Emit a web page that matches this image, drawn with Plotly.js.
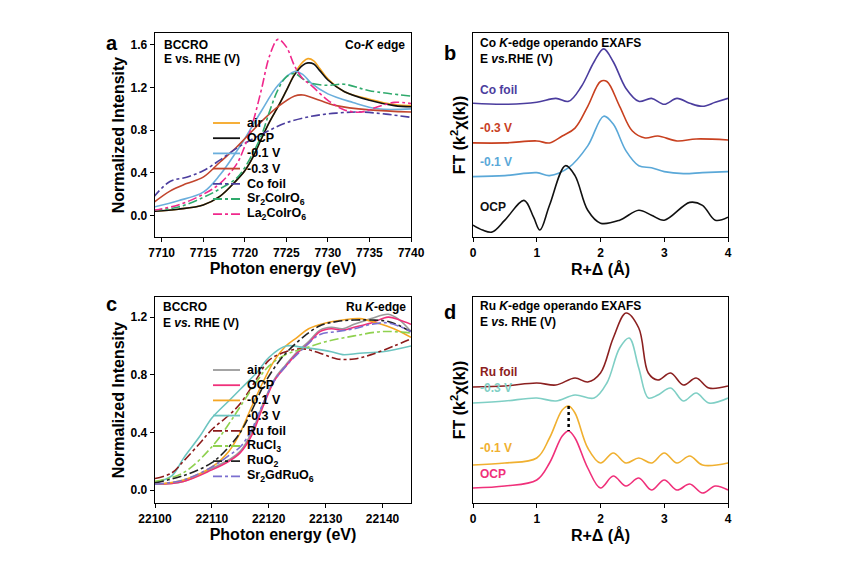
<!DOCTYPE html>
<html><head><meta charset="utf-8">
<script src="https://cdn.plot.ly/plotly-3.0.1.min.js"></script>
<style>body{margin:0}#chart{width:844px;height:574px}</style>
</head><body><div id="chart"></div>
<script>
// panel a: Co K-edge XANES
var aAirX = [7709,7712,7715,7717,7719,7720,7721,7722,7723,7724,7725,7726,7727,7727.6,7728.3,7729,7730,7732,7735,7738,7740]
var aAirY = [0.04,0.06,0.1,0.18,0.33,0.42,0.55,0.72,0.88,1.02,1.17,1.33,1.44,1.47,1.45,1.38,1.28,1.16,1.09,1.04,1.03]
var aOcpY = [0.04,0.06,0.1,0.18,0.33,0.42,0.55,0.72,0.88,1.02,1.17,1.32,1.41,1.43,1.42,1.36,1.27,1.16,1.08,1.03,1.02]
var aM01X = [7709,7712,7715,7717,7719,7720,7722,7724,7726,7727,7728,7730,7733,7736,7740]
var aM01Y = [0.08,0.14,0.22,0.38,0.6,0.72,0.98,1.22,1.35,1.32,1.24,1.14,1.06,1.0,1.0]
var aM03X = [7709,7711,7713,7715,7717,7719,7720,7722,7724,7726,7727,7729,7731,7735,7740]
var aM03Y = [0.12,0.23,0.3,0.36,0.5,0.64,0.72,0.88,1.02,1.12,1.13,1.08,1.03,0.99,0.97]
var aFoilX = [7709,7711,7713,7715,7717,7719,7721,7723,7725,7728,7731,7734,7737,7740]
var aFoilY = [0.17,0.32,0.36,0.42,0.52,0.63,0.72,0.8,0.87,0.93,0.96,0.97,0.95,0.92]
var aSrX = [7709,7712,7715,7717,7719,7720,7722,7723,7724,7725,7726,7727,7728,7730,7732,7735,7740]
var aSrY = [0.05,0.08,0.17,0.25,0.35,0.45,0.75,0.98,1.18,1.3,1.33,1.28,1.24,1.22,1.23,1.17,1.12]
var aLaX = [7709,7712,7715,7717,7719,7720,7721,7722,7723,7724,7725,7726,7727,7728,7730,7732,7734,7736,7738,7740]
var aLaY = [0.05,0.1,0.2,0.3,0.48,0.65,0.88,1.18,1.5,1.65,1.58,1.4,1.28,1.22,1.08,0.99,0.97,1.02,1.06,1.05]

// panel b: Co K-edge EXAFS (offset curves, arbitrary units)
var bFoilX = [0,0.5,1.0,1.3,1.5,1.7,1.9,2.05,2.2,2.4,2.6,2.8,3.0,3.2,3.4,3.6,3.8,4.0]
var bFoilY = [133,132,134,138,135,150,175,188,175,148,135,138,132,138,133,130,134,138]
var bM03X = [0,0.5,1.0,1.2,1.4,1.6,1.8,2.0,2.1,2.3,2.5,2.7,2.9,3.2,3.5,4.0]
var bM03Y = [93,93,95,93,100,108,130,155,155,130,105,98,100,95,97,96]
var bM01X = [0,0.5,1.0,1.2,1.5,1.8,2.05,2.2,2.4,2.6,2.8,3.0,3.3,3.6,4.0]
var bM01Y = [59,60,63,60,68,90,120,112,85,70,68,64,62,63,64]
var bOcpX = [0,0.15,0.3,0.5,0.8,0.95,1.05,1.2,1.45,1.6,1.8,2.0,2.3,2.6,2.8,3.0,3.4,3.6,3.8,4.0]
var bOcpY = [10,5,3,15,35,18,5,30,70,60,25,12,15,25,20,15,33,30,15,18]

// panel c: Ru K-edge XANES
var cOcpX = [22100,22105,22110,22113,22115,22117,22119,22121,22123,22125,22127,22129,22131,22133,22135,22138,22141,22143,22145]
var cOcpY = [0.04,0.06,0.14,0.2,0.26,0.38,0.58,0.76,0.86,0.95,1.02,1.1,1.12,1.11,1.13,1.16,1.2,1.18,1.15]
var cAirY = [0.04,0.06,0.15,0.21,0.27,0.4,0.6,0.77,0.87,0.96,1.03,1.11,1.13,1.12,1.15,1.19,1.22,1.18,1.1]
var cM01X = [22100,22105,22110,22113,22115,22117,22119,22121,22123,22125,22127,22130,22133,22136,22139,22142,22145]
var cM01Y = [0.04,0.07,0.16,0.27,0.4,0.58,0.75,0.9,1.0,1.06,1.12,1.16,1.18,1.19,1.16,1.12,1.06]
var cM03X = [22100,22103,22105,22108,22110,22113,22115,22118,22120,22123,22126,22128,22131,22133,22136,22140,22145]
var cM03Y = [0.05,0.1,0.22,0.38,0.5,0.62,0.7,0.82,0.92,1.0,0.99,0.98,0.96,0.94,0.95,0.96,1.0]
var cFoilX = [22100,22103,22105,22108,22110,22113,22115,22118,22120,22123,22126,22129,22132,22135,22138,22142,22145]
var cFoilY = [0.08,0.12,0.2,0.33,0.42,0.52,0.6,0.78,0.9,0.96,0.98,0.95,0.91,0.91,0.94,1.0,1.05]
var cClX = [22100,22105,22110,22113,22115,22118,22120,22123,22126,22130,22135,22140,22145]
var cClY = [0.06,0.12,0.3,0.46,0.58,0.76,0.86,0.94,0.98,1.03,1.07,1.1,1.09]
var cRuo2X = [22100,22105,22110,22113,22115,22117,22119,22121,22123,22126,22129,22132,22135,22138,22141,22145]
var cRuo2Y = [0.05,0.1,0.19,0.3,0.4,0.55,0.72,0.85,0.95,1.06,1.14,1.17,1.18,1.18,1.17,1.1]
var cGdX = [22100,22105,22110,22113,22115,22117,22119,22121,22123,22126,22129,22132,22135,22138,22141,22145]
var cGdY = [0.04,0.07,0.16,0.24,0.3,0.42,0.6,0.76,0.86,0.98,1.08,1.1,1.12,1.15,1.16,1.1]

// panel d: Ru K-edge EXAFS
var dFoilX = [0,0.5,1.0,1.3,1.6,1.8,2.0,2.2,2.4,2.6,2.75,2.9,3.1,3.3,3.5,3.7,4.0]
var dFoilY = [111,112,115,113,120,116,125,160,185,170,125,118,125,113,120,110,112]
var dM03X = [0,0.5,1.0,1.3,1.6,1.9,2.1,2.3,2.45,2.6,2.75,2.9,3.1,3.3,3.5,3.7,4.0]
var dM03Y = [95,97,100,97,103,100,115,150,160,130,100,103,110,97,105,95,100]
var dM01X = [0,0.5,1.0,1.2,1.4,1.5,1.6,1.8,2.0,2.2,2.4,2.6,2.8,3.0,3.2,3.4,3.6,4.0]
var dM01Y = [33,35,40,60,88,92,85,50,35,45,35,40,35,45,35,42,33,35]
var dOcpX = [0,0.5,1.0,1.2,1.4,1.5,1.6,1.8,2.0,2.2,2.4,2.6,2.8,3.0,3.2,3.4,3.6,3.8,4.0]
var dOcpY = [10,12,18,35,62,67,60,30,10,22,12,20,8,18,8,14,5,12,8]
var dShiftX = [1.5,1.5]
var dShiftY = [92,67]

var aNames = ["air","OCP","-0.1 V","-0.3 V","Co foil","Sr<sub>2</sub>CoIrO<sub>6</sub>","La<sub>2</sub>CoIrO<sub>6</sub>"]
var aColors = ["#f5a623","#111111","#6aaedc","#c2452d","#4b3d9e","#2faa6c","#f0288c"]
var aDash = ["solid","solid","solid","solid","dashdot","dashdot","dashdot"]
var cNames = ["air","OCP","-0.1 V","-0.3 V","Ru foil","RuCl<sub>3</sub>","RuO<sub>2</sub>","Sr<sub>2</sub>GdRuO<sub>6</sub>"]
var cColors = ["#9a9a9a","#f0307a","#f5a623","#6cc4c0","#8b1a1a","#8fd14f","#222222","#7b6fd0"]
var cDash = ["solid","solid","solid","solid","dashdot","dashdot","dashdot","dashdot"]

function tr(x, y, color, name, dash, xa, ya) {
  return {x: x, y: y, name: name, mode: "lines", type: "scatter",
    line: {color: color, width: 1.6, dash: dash || "solid", shape: "spline", smoothing: 1},
    xaxis: xa, yaxis: ya, showlegend: false, hoverinfo: "skip"}
}

var data = [
  tr(aAirX, aAirY, aColors[0], aNames[0], aDash[0], "x", "y"),
  tr(aAirX, aOcpY, aColors[1], aNames[1], aDash[1], "x", "y"),
  tr(aM01X, aM01Y, aColors[2], aNames[2], aDash[2], "x", "y"),
  tr(aM03X, aM03Y, aColors[3], aNames[3], aDash[3], "x", "y"),
  tr(aFoilX, aFoilY, aColors[4], aNames[4], aDash[4], "x", "y"),
  tr(aSrX, aSrY, aColors[5], aNames[5], aDash[5], "x", "y"),
  tr(aLaX, aLaY, aColors[6], aNames[6], aDash[6], "x", "y"),

  tr(bFoilX, bFoilY, "#4b3d9e", "Co foil", "solid", "x2", "y2"),
  tr(bM03X, bM03Y, "#c8401f", "-0.3 V", "solid", "x2", "y2"),
  tr(bM01X, bM01Y, "#5aa8d8", "-0.1 V", "solid", "x2", "y2"),
  tr(bOcpX, bOcpY, "#111111", "OCP", "solid", "x2", "y2"),

  tr(cOcpX, cAirY, cColors[0], cNames[0], cDash[0], "x3", "y3"),
  tr(cOcpX, cOcpY, cColors[1], cNames[1], cDash[1], "x3", "y3"),
  tr(cM01X, cM01Y, cColors[2], cNames[2], cDash[2], "x3", "y3"),
  tr(cM03X, cM03Y, cColors[3], cNames[3], cDash[3], "x3", "y3"),
  tr(cFoilX, cFoilY, cColors[4], cNames[4], cDash[4], "x3", "y3"),
  tr(cClX, cClY, cColors[5], cNames[5], cDash[5], "x3", "y3"),
  tr(cRuo2X, cRuo2Y, cColors[6], cNames[6], cDash[6], "x3", "y3"),
  tr(cGdX, cGdY, cColors[7], cNames[7], cDash[7], "x3", "y3"),

  tr(dFoilX, dFoilY, "#8b2020", "Ru foil", "solid", "x4", "y4"),
  tr(dM03X, dM03Y, "#7fcfc5", "-0.3 V", "solid", "x4", "y4"),
  tr(dM01X, dM01Y, "#f0b030", "-0.1 V", "solid", "x4", "y4"),
  tr(dOcpX, dOcpY, "#f0307a", "OCP", "solid", "x4", "y4"),
  {x: dShiftX, y: dShiftY, mode: "lines", line: {color: "#000", width: 2.5, dash: "dot"},
   xaxis: "x4", yaxis: "y4", showlegend: false, hoverinfo: "skip"}
]

var F = "Liberation Sans, Arial, sans-serif"
function ax(dom, range, dtick, title, anchor, extra) {
  var o = {domain: dom, range: range, dtick: dtick, anchor: anchor, showline: true, mirror: true,
    linecolor: "#000", linewidth: 1.3, ticks: "outside", ticklen: 4, tickcolor: "#000", showgrid: false,
    zeroline: false, tickfont: {family: F, size: 12, color: "#000", weight: "bold"},
    title: {text: title, font: {family: F, size: 16, color: "#000", weight: "bold"}, standoff: 2}}
  for (var k in extra) o[k] = extra[k]
  return o
}
var dxL = [155/844, 411/844], dxR = [473/844, 728/844]
var dyT = [1-237/574, 1-33/574], dyB = [1-503/574, 1-297/574]
var noTick = {showticklabels: false, ticks: ""}

function ann(x, y, text, color, size, xa, ya, xanchor) {
  return {x: x, y: y, xref: xa, yref: ya, text: text, showarrow: false, xanchor: xanchor || "left",
    yanchor: "middle", font: {family: F, size: size || 12, color: color || "#000", weight: "bold"}}
}

var annotations = [
  {x: 104/844, y: 1-30/574, xref: "paper", yref: "paper", text: "a", showarrow: false, font: {family: F, size: 20, weight: "bold", color: "#000"}},
  {x: 450/844, y: 1-40/574, xref: "paper", yref: "paper", text: "b", showarrow: false, font: {family: F, size: 20, weight: "bold", color: "#000"}},
  {x: 104/844, y: 1-304/574, xref: "paper", yref: "paper", text: "c", showarrow: false, font: {family: F, size: 20, weight: "bold", color: "#000"}},
  {x: 450/844, y: 1-312/574, xref: "paper", yref: "paper", text: "d", showarrow: false, font: {family: F, size: 20, weight: "bold", color: "#000"}},
  ann(7710, 1.6, "BCCRO", "#000", 12, "x", "y"),
  ann(7710, 1.47, "E vs. RHE (V)", "#000", 12, "x", "y"),
  ann(7739.5, 1.6, "Co-<i>K</i> edge", "#000", 12, "x", "y", "right"),
  ann(0.08, 194, "Co <i>K</i>-edge operando EXAFS", "#000", 12, "x2", "y2"),
  ann(0.08, 178, "E <i>vs.</i>RHE (V)", "#000", 12, "x2", "y2"),
  ann(0.08, 146, "Co foil", "#4b3d9e", 12, "x2", "y2"),
  ann(0.08, 108, "-0.3 V", "#c8401f", 12, "x2", "y2"),
  ann(0.08, 74, "-0.1 V", "#5aa8d8", 12, "x2", "y2"),
  ann(0.08, 28, "OCP", "#111", 12, "x2", "y2"),
  ann(22101, 1.27, "BCCRO", "#000", 12, "x3", "y3"),
  ann(22101, 1.16, "E <i>vs.</i> RHE (V)", "#000", 12, "x3", "y3"),
  ann(22144.5, 1.27, "Ru <i>K</i>-edge", "#000", 12, "x3", "y3", "right"),
  ann(0.08, 192, "Ru <i>K</i>-edge operando EXAFS", "#000", 12, "x4", "y4"),
  ann(0.08, 176, "E <i>vs.</i> RHE (V)", "#000", 12, "x4", "y4"),
  ann(0.08, 126, "Ru foil", "#8b2020", 12, "x4", "y4"),
  ann(0.08, 110, "-0.3 V", "#7fcfc5", 12, "x4", "y4"),
  ann(0.08, 50, "-0.1 V", "#f0b030", 12, "x4", "y4"),
  ann(0.08, 24, "OCP", "#f0307a", 12, "x4", "y4")
]
var shapes = []
// hand-built legends: sample line + label, 15 px per row
function legendRows(names, colors, dashes, top) {
  for (var i = 0; i < names.length; i++) {
    var py = top + i * 15.2
    shapes.push({type: "line", xref: "paper", yref: "paper", x0: 213/844, x1: 240/844,
      y0: 1 - py/574, y1: 1 - py/574, line: {color: colors[i], width: 1.8, dash: dashes[i]}})
    annotations.push({x: 245/844, y: 1 - py/574, xref: "paper", yref: "paper", text: names[i],
      showarrow: false, xanchor: "left", yanchor: "middle",
      font: {family: F, size: 12.5, color: "#000", weight: "bold"}})
  }
}
legendRows(aNames, aColors, aDash, 123)
legendRows(cNames, cColors, cDash, 370)

var layout = {
  width: 844, height: 574, margin: {l: 0, r: 0, t: 0, b: 0},
  paper_bgcolor: "#fff", plot_bgcolor: "#fff", font: {family: F}, showlegend: false,
  xaxis: ax(dxL, [7709.2, 7740], 5, "Photon energy (eV)", "y"),
  yaxis: ax(dyT, [-0.2, 1.71], 0.4, "Normalized Intensity", "x", {tickformat: ".1f"}),
  xaxis2: ax(dxR, [0, 4], 1, "R+Δ (Å)", "y2"),
  yaxis2: ax(dyT, [-2, 204], 50, "FT (k<sup>2</sup>χ(k))", "x2", noTick),
  xaxis3: ax(dxL, [22100, 22145], 10, "Photon energy (eV)", "y3", {tickformat: "d"}),
  yaxis3: ax(dyB, [-0.09, 1.34], 0.4, "Normalized Intensity", "x3", {tickformat: ".1f"}),
  xaxis4: ax(dxR, [0, 4], 1, "R+Δ (Å)", "y4"),
  yaxis4: ax(dyB, [-5, 201], 50, "FT (k<sup>2</sup>χ(k))", "x4", noTick),
  annotations: annotations,
  shapes: shapes
}

Plotly.newPlot("chart", data, layout, {displayModeBar: false, staticPlot: true})
</script></body></html>
